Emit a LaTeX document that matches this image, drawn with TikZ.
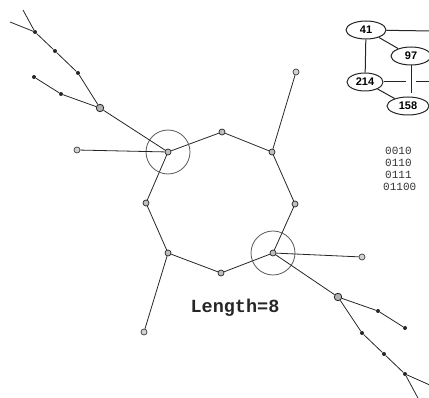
\documentclass[tikz,border=0pt]{standalone}
\usepackage{fontspec}
\setmonofont{Liberation Mono}
\setsansfont{Liberation Sans}
\usetikzlibrary{shapes.geometric}

\begin{document}
\begin{tikzpicture}[
    x=1pt, y=-1pt,
    % Styles
    link/.style={black!85, line width=0.8pt},
    ring_point/.style={circle, draw=black!85, fill=gray!50, line width=0.7pt, minimum size=6pt, inner sep=0pt},
    hub_point/.style={circle, draw=black!85, fill=gray!60, line width=0.8pt, minimum size=7.5pt, inner sep=0pt},
    leaf_point/.style={circle, draw=black!75, fill=gray!35, line width=0.7pt, minimum size=6pt, inner sep=0pt},
    tree_dot/.style={circle, fill=black!85, minimum size=4pt, inner sep=0pt},
    hub_ring/.style={circle, draw=black!65, line width=0.8pt, minimum size=44pt, inner sep=0pt},
    id_oval/.style={ellipse, draw=black!85, line width=1pt, minimum width=38pt, minimum height=18pt, inner sep=0pt, font=\sffamily\bfseries\fontsize{11}{11}\selectfont},
    code_line/.style={anchor=west, inner sep=0pt, font=\ttfamily\fontsize{11}{11}\selectfont, text=black!80}
]
    \clip (0,0) rectangle (429,398);

    % ==========================================
    % 1. RING OF LENGTH 8
    % ==========================================
    \node[ring_point] (A) at (168,152) {};
    \node[ring_point] (B) at (222,132) {};
    \node[ring_point] (C) at (272,152) {};
    \node[ring_point] (D) at (295,204) {};
    \node[ring_point] (E) at (273,253) {};
    \node[ring_point] (F) at (221,273) {};
    \node[ring_point] (G) at (168,253) {};
    \node[ring_point] (H) at (146,203) {};

    \draw[link] (A) -- (B) -- (C) -- (D) -- (E) -- (F) -- (G) -- (H) -- (A);

    % circled ring nodes
    \node[hub_ring] (A_ring) at (A) {};
    \node[hub_ring] (E_ring) at (E) {};

    % ==========================================
    % 2. SIDE BRANCHES
    % ==========================================
    \node[leaf_point] (LA) at (77,150) {};
    \node[leaf_point] (LC) at (296,72) {};
    \node[leaf_point] (LG) at (144,332) {};
    \node[leaf_point] (LE) at (362,257) {};

    \draw[link] (A) -- (LA);
    \draw[link] (C) -- (LC);
    \draw[link] (G) -- (LG);
    \draw[link] (E) -- (LE);

    % upper left tree
    \node[hub_point] (J1) at (100,108) {};
    \node[tree_dot] (U1) at (78,73) {};
    \node[tree_dot] (U2) at (55,51) {};
    \node[tree_dot] (U3) at (35,32) {};
    \node[tree_dot] (V1) at (61,94) {};
    \node[tree_dot] (V2) at (34,77) {};
    \coordinate (T1) at (23,10);
    \coordinate (T2) at (10,22);

    \draw[link] (A) -- (J1);
    \draw[link] (J1) -- (U1) -- (U2) -- (U3) -- (T1);
    \draw[link] (U3) -- (T2);
    \draw[link] (J1) -- (V1) -- (V2);

    % lower right tree
    \node[hub_point] (J2) at (338,297) {};
    \node[tree_dot] (W1) at (378,311) {};
    \node[tree_dot] (W2) at (405,328) {};
    \node[tree_dot] (X1) at (362,333) {};
    \node[tree_dot] (X2) at (384,354) {};
    \node[tree_dot] (X3) at (405,374) {};
    \coordinate (S1) at (432,386);
    \coordinate (S2) at (419,400);

    \draw[link] (E) -- (J2);
    \draw[link] (J2) -- (W1) -- (W2);
    \draw[link] (J2) -- (X1) -- (X2) -- (X3) -- (S1);
    \draw[link] (X3) -- (S2);

    % ==========================================
    % 3. ANNOTATIONS
    % ==========================================
    \node[font=\ttfamily\bfseries\fontsize{18.5}{20}\selectfont, text=black!85] (len) at (235,308) {Length=8};

    % ==========================================
    % 4. ID GRAPH (top right)
    % ==========================================
    \node[id_oval, minimum width=40pt] (n41) at (366,30) {41};
    \node[id_oval, minimum width=40pt] (n97) at (411,56) {97};
    \node[id_oval, minimum width=36pt] (n214) at (365,82) {214};
    \node[id_oval, minimum width=42pt] (n158) at (408,106) {158};
    \coordinate (r41) at (432,31);
    \coordinate (r214) at (432,82);
    \coordinate (gapL) at (406,82);
    \coordinate (gapR) at (416,82);
    \coordinate (d97) at (411,93);

    \draw[link, line width=1pt] (n41) -- (r41);
    \draw[link, line width=1pt] (n41) -- (n97);
    \draw[link, line width=1pt] (n41) -- (n214);
    \draw[link, line width=1pt] (n214) -- (n158);
    \draw[link, line width=1pt] (n214) -- (gapL);
    \draw[link, line width=1pt] (gapR) -- (r214);
    \draw[link, line width=1pt] (n97) -- (d97);

    % bit strings
    \node[code_line] (b1) at (385,151) {0010};
    \node[code_line] (b2) at (385,163) {0110};
    \node[code_line] (b3) at (385,175) {0111};
    \node[code_line] (b4) at (383,187) {01100};

\end{tikzpicture}
\end{document}
